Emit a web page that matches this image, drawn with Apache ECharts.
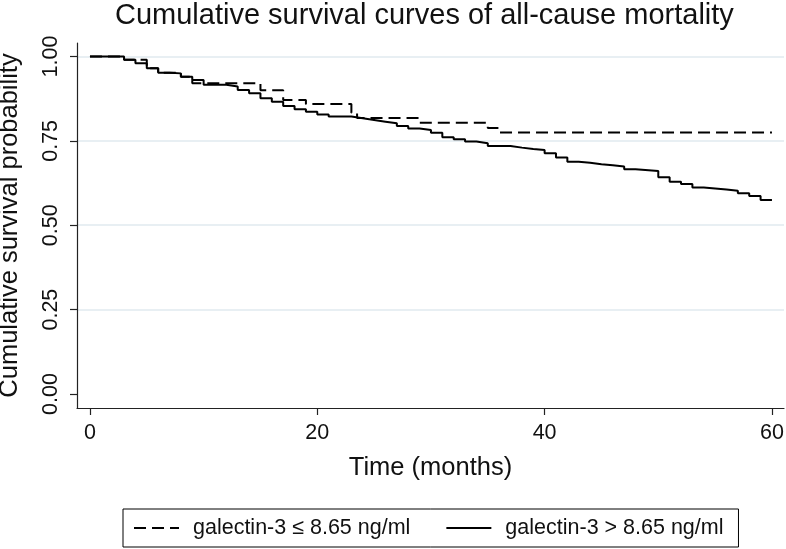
<!DOCTYPE html>
<html>
<head>
<meta charset="utf-8">
<script src="https://cdn.jsdelivr.net/npm/echarts@6/dist/echarts.min.js"></script>
<style>
html,body{margin:0;padding:0;background:#fff;}
#chart{width:786px;height:549px;}
</style>
</head>
<body>
<div id="chart"></div>
<script>
// ---- data ----
const titleText = 'Cumulative survival curves of all-cause mortality';
const xAxisTitle = 'Time (months)';
const yAxisTitle = 'Cumulative survival probability';
const xTickValues = [0, 20, 40, 60];
const yTickValues = [0, 0.25, 0.5, 0.75, 1];

const nameLow = 'galectin-3 \u2264 8.65 ng/ml';
const timeLow = [0, 3, 5, 6, 8, 9, 15, 17, 19, 23, 23.5, 29, 35, 36, 60];
const survLow = [1.0, 0.99, 0.965, 0.952, 0.94, 0.921, 0.90, 0.871, 0.859, 0.833, 0.818, 0.804, 0.788, 0.775, 0.775];

const nameHigh = 'galectin-3 > 8.65 ng/ml';
const timeHigh = [0, 3, 4, 5, 6, 7, 8, 9, 10, 12, 13, 14, 15, 16, 17, 18, 19, 20, 21,
  23, 24, 25, 26, 27, 28, 29, 30, 31, 32, 33, 34, 35,
  37, 38, 39, 40, 41, 42, 43, 44, 45, 46, 47, 48,
  50, 51, 52, 53, 54, 55, 56, 57, 58, 59, 60];
const survHigh = [1.0, 0.990, 0.980, 0.965, 0.952, 0.950, 0.940, 0.930, 0.916,
  0.911, 0.901, 0.891, 0.876, 0.866, 0.853, 0.844, 0.836, 0.828, 0.822,
  0.817, 0.812, 0.807, 0.802, 0.794, 0.787, 0.782, 0.774, 0.761, 0.755, 0.748, 0.743, 0.735,
  0.730, 0.726, 0.723, 0.713, 0.701, 0.688, 0.685, 0.681, 0.678, 0.674, 0.666, 0.661,
  0.642, 0.629, 0.622, 0.612, 0.609, 0.606, 0.602, 0.595, 0.587, 0.575, 0.575];

// ---- chart ----
const FONT = '"Liberation Sans", Arial, Helvetica, sans-serif';
const TXT = '#111';
const chart = echarts.init(document.getElementById('chart'), null, {renderer: 'canvas'});

const lowData = timeLow.map((t, i) => [t, survLow[i]]);
const highData = timeHigh.map((t, i) => [t, survHigh[i]]);

chart.setOption({
  backgroundColor: '#fff',
  animation: false,
  textStyle: {fontFamily: FONT},
  title: {
    text: titleText,
    left: 115,
    top: 1,
    padding: 0,
    textStyle: {fontFamily: FONT, fontSize: 29, fontWeight: 'normal', color: TXT}
  },
  grid: {left: 77, right: 2, top: 43, bottom: 141, containLabel: false, outerBoundsMode: 'none'},
  legend: {
    data: [nameLow, nameHigh],
    left: 123,
    top: 509,
    orient: 'horizontal',
    padding: [8, 15, 8, 10],
    itemWidth: 45,
    itemHeight: 14,
    itemGap: 35,
    borderColor: '#000',
    borderWidth: 1,
    selectedMode: false,
    itemStyle: {color: 'rgba(0,0,0,0)', borderColor: 'rgba(0,0,0,0)', borderWidth: 0, opacity: 0},
    textStyle: {fontFamily: FONT, fontSize: 21.5, color: TXT, padding: [0, 0, 0, 9]}
  },
  xAxis: {
    type: 'value',
    min: -1.14,
    max: 61.06,
    name: xAxisTitle,
    nameLocation: 'middle',
    nameGap: 47,
    nameTextStyle: {fontFamily: FONT, fontSize: 25.5, color: TXT},
    axisLine: {show: true, onZero: false, lineStyle: {color: '#222', width: 1.2}},
    axisTick: {show: true, inside: false, length: 7, customValues: xTickValues, lineStyle: {color: '#222', width: 1.2}},
    axisLabel: {customValues: xTickValues, margin: 14, fontFamily: FONT, fontSize: 21.5, color: TXT},
    splitLine: {show: false}
  },
  yAxis: {
    type: 'value',
    min: -0.0415,
    max: 1.04,
    name: yAxisTitle,
    nameLocation: 'middle',
    nameGap: 54,
    nameTextStyle: {fontFamily: FONT, fontSize: 25.5, color: TXT},
    axisLine: {show: true, onZero: false, lineStyle: {color: '#222', width: 1.2}},
    axisTick: {show: true, inside: false, length: 7, customValues: yTickValues, lineStyle: {color: '#222', width: 1.2}},
    axisLabel: {
      customValues: yTickValues,
      rotate: 90,
      margin: 15,
      fontFamily: FONT, fontSize: 21.5, color: TXT,
      formatter: v => Number(v).toFixed(2)
    },
    splitLine: {
      show: true,
      lineStyle: {color: ['rgba(0,0,0,0)', '#e0eaef', '#e0eaef', '#e0eaef', '#e0eaef'], width: 1.6}
    }
  },
  series: [
    {
      name: nameLow,
      type: 'line',
      step: 'end',
      data: lowData,
      symbol: 'none',
      showSymbol: false,
      lineStyle: {color: '#000', width: 2, type: [12, 6]},
      itemStyle: {color: '#000'},
      z: 3
    },
    {
      name: nameHigh,
      type: 'line',
      step: 'end',
      data: highData,
      symbol: 'none',
      showSymbol: false,
      lineStyle: {color: '#000', width: 2, type: 'solid'},
      itemStyle: {color: '#000'},
      z: 4
    }
  ]
});
</script>
</body>
</html>
